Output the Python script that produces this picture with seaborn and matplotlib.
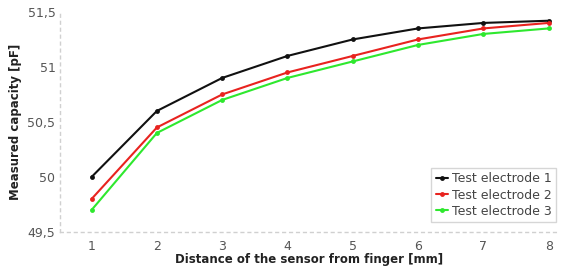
import numpy as np
import pandas as pd
import seaborn as sns
import matplotlib
matplotlib.use("Agg")
import matplotlib.pyplot as plt
from matplotlib.ticker import FixedLocator, MultipleLocator, FuncFormatter

distance = [1, 2, 3, 4, 5, 6, 7, 8]
electrode1 = [50.0, 50.6, 50.9, 51.1, 51.25, 51.35, 51.4, 51.42]
electrode2 = [49.8, 50.45, 50.75, 50.95, 51.1, 51.25, 51.35, 51.4]
electrode3 = [49.7, 50.4, 50.7, 50.9, 51.05, 51.2, 51.3, 51.35]
series_names = ["Test electrode 1", "Test electrode 2", "Test electrode 3"]
colors = ["#111111", "#e8231f", "#2ee82e"]

df = pd.concat([
    pd.DataFrame({"x": distance, "y": vals, "s": name})
    for vals, name in zip([electrode1, electrode2, electrode3], series_names)
])

sns.set_style("white")
plt.rcParams['font.family'] = ['DejaVu Sans']

fig = plt.figure(figsize=(5.63, 2.71), dpi=100)
ax = fig.add_axes([0.107, 0.144, 0.885, 0.812])
sns.lineplot(data=df, x="x", y="y", hue="s", palette=colors, marker="o",
             markersize=3.5, markeredgewidth=0, linewidth=1.5, ax=ax)

ax.set_xlim(0.52, 8.15)
ax.set_ylim(49.5, 51.5)
ax.xaxis.set_major_locator(FixedLocator(distance))
ax.yaxis.set_major_locator(MultipleLocator(0.5))
ax.xaxis.set_minor_locator(MultipleLocator(0.25))
ax.yaxis.set_minor_locator(MultipleLocator(0.125))
ax.yaxis.set_major_formatter(FuncFormatter(lambda v, p: (f"{v:g}").replace(".", ",")))

for side in ["top", "right"]:
    ax.spines[side].set_visible(False)
for side in ["left", "bottom"]:
    ax.spines[side].set_color("#d0d0d0")
    ax.spines[side].set_linestyle((0, (2, 3)))
    ax.spines[side].set_linewidth(1.0)

ax.tick_params(axis="both", which="major", labelsize=9, colors="#dddddd",
               labelcolor="#555555", length=3, direction="in")
ax.tick_params(axis="both", which="minor", colors="#dddddd", length=2, direction="in")
ax.tick_params(axis="x", pad=6)

ax.set_xlabel("Distance of the sensor from finger [mm]", fontsize=8.5,
              fontweight="bold", color="#222222", labelpad=0)
ax.set_ylabel("Measured capacity [pF]", fontsize=8.5, fontweight="bold",
              color="#222222", labelpad=4)

leg = ax.legend(loc="lower right", fontsize=9, frameon=True, fancybox=False,
                handlelength=1.0, handletextpad=0.3, borderpad=0.35,
                labelspacing=0.25, borderaxespad=0, bbox_to_anchor=(0.995, 0.045))
leg.get_frame().set_edgecolor("#cccccc")
leg.get_frame().set_linewidth(1.0)
for t in leg.get_texts():
    t.set_color("#444444")

fig.savefig("out.png", dpi=100)
